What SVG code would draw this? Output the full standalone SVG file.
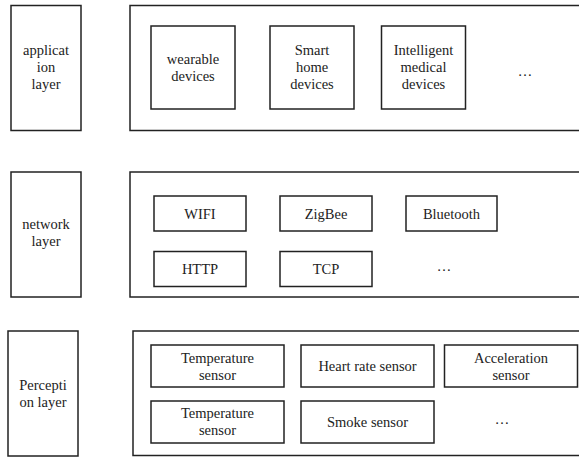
<svg xmlns="http://www.w3.org/2000/svg" width="579" height="457" viewBox="0 0 579 457">
<style>
rect{fill:#fff;stroke:#222;stroke-width:1.5}
text{font-family:"Liberation Serif","Times New Roman",serif;font-size:14.5px;fill:#222;text-anchor:middle}
</style>
<rect x="0" y="0" width="579" height="457" style="stroke:none"/>
<g id="application-layer">
<rect x="11" y="5.5" width="70" height="125"/>
<text x="46" y="55">applicat</text>
<text x="46" y="72">ion</text>
<text x="46" y="89">layer</text>
</g>
<g id="application-group">
<rect x="130" y="5.5" width="460" height="125"/>
</g>
<g id="wearable">
<rect x="151" y="26" width="84" height="83"/>
<text x="193" y="64">wearable</text>
<text x="193" y="81">devices</text>
</g>
<g id="smart-home">
<rect x="270" y="26" width="84" height="83"/>
<text x="312" y="55">Smart</text>
<text x="312" y="72">home</text>
<text x="312" y="89">devices</text>
</g>
<g id="intelligent-medical">
<rect x="381.5" y="26" width="84" height="83"/>
<text x="423.5" y="55">Intelligent</text>
<text x="423.5" y="72">medical</text>
<text x="423.5" y="89">devices</text>
</g>
<g id="app-more"><text x="525" y="76">…</text></g>

<g id="network-layer">
<rect x="11" y="172" width="70" height="125"/>
<text x="46" y="229">network</text>
<text x="46" y="246">layer</text>
</g>
<g id="network-group">
<rect x="130" y="172" width="460" height="125"/>
</g>
<g id="wifi"><rect x="154" y="196" width="92" height="35"/><text x="200" y="218.5">WIFI</text></g>
<g id="zigbee"><rect x="280" y="196" width="92" height="35"/><text x="326" y="218.5">ZigBee</text></g>
<g id="bluetooth"><rect x="406" y="196" width="91" height="35"/><text x="451.5" y="218.5">Bluetooth</text></g>
<g id="http"><rect x="154" y="251.5" width="92" height="35"/><text x="200" y="273.5">HTTP</text></g>
<g id="tcp"><rect x="280" y="251.5" width="92" height="35"/><text x="326" y="273.5">TCP</text></g>
<g id="net-more"><text x="444" y="271">…</text></g>

<g id="perception-layer">
<rect x="8" y="331" width="70" height="125"/>
<text x="43" y="390">Percepti</text>
<text x="43" y="406.5">on layer</text>
</g>
<g id="perception-group">
<rect x="133" y="331" width="460" height="124.5"/>
</g>
<g id="temp1"><rect x="151" y="345" width="133" height="42"/><text x="217.5" y="362.5">Temperature</text><text x="217.5" y="380">sensor</text></g>
<g id="heart"><rect x="301" y="345" width="133" height="42"/><text x="367.5" y="371">Heart rate sensor</text></g>
<g id="accel"><rect x="444.5" y="345" width="133" height="42"/><text x="511" y="362.5">Acceleration</text><text x="511" y="380">sensor</text></g>
<g id="temp2"><rect x="151" y="401" width="133" height="42"/><text x="217.5" y="417.5">Temperature</text><text x="217.5" y="435">sensor</text></g>
<g id="smoke"><rect x="301" y="401" width="133" height="42"/><text x="367.5" y="426.5">Smoke sensor</text></g>
<g id="per-more"><text x="502" y="424">…</text></g>
<g id="connectors"></g>
</svg>
